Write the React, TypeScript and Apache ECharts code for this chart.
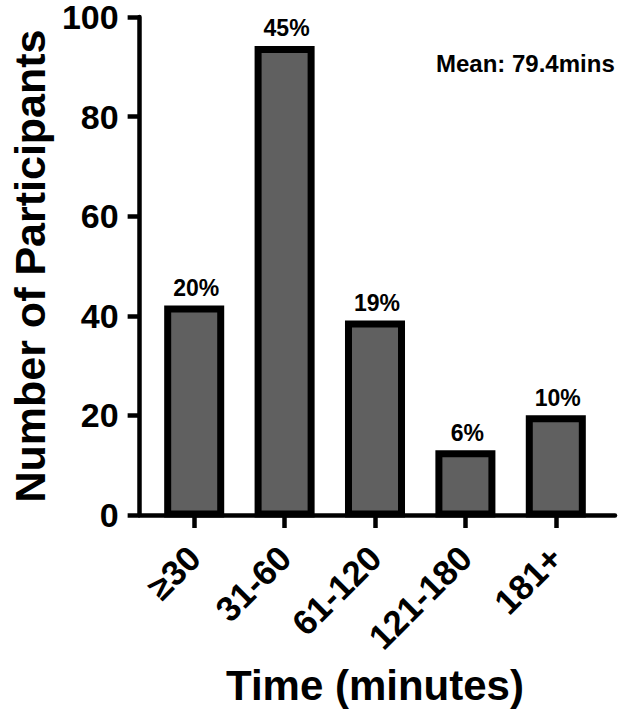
import React, { useEffect, useRef } from "react";
import * as echarts from "echarts";

const categories = ["≥30", "31-60", "61-120", "121-180", "181+"];
const participants = [42, 94, 39, 13, 20];
const percentLabels = ["20%", "45%", "19%", "6%", "10%"];
const yTicks = [0, 20, 40, 60, 80, 100];
const meanText = "Mean: 79.4mins";

const FONT = "'Liberation Sans', Arial, Helvetica, sans-serif";

export default function App() {
  const ref = useRef<HTMLDivElement>(null);

  useEffect(() => {
    document.body.style.margin = "0";
    if (!ref.current) return;
    const chart = echarts.init(ref.current, undefined, { renderer: "svg" });

    const data = participants.map((v, i) => [i, v]);
    const lw = 4.5;

    const option: any = {
      animation: false,
      backgroundColor: "#ffffff",
      grid: [
        { left: 132.5, right: 23, top: 16, bottom: 196 },
        { left: 149, width: 452, top: 16, bottom: 196 },
      ],
      xAxis: [
        {
          gridIndex: 0,
          type: "value",
          min: 0,
          max: 1,
          axisLine: { show: true, lineStyle: { color: "#000", width: lw } },
          axisTick: { show: false },
          axisLabel: { show: false },
          splitLine: { show: false },
        },
        {
          gridIndex: 1,
          type: "category",
          data: categories,
          axisLine: { show: false },
          axisTick: {
            show: true,
            alignWithLabel: true,
            length: 13,
            lineStyle: { color: "#000", width: lw },
          },
          axisLabel: {
            rotate: 45,
            margin: 37,
            interval: 0,
            color: "#000",
            fontSize: 35,
            fontWeight: "bold",
            fontFamily: FONT,
          },
          splitLine: { show: false },
          name: "Time (minutes)",
          nameLocation: "middle",
          nameGap: 170,
          nameTextStyle: {
            color: "#000",
            fontSize: 42,
            fontWeight: "bold",
            fontFamily: FONT,
            verticalAlign: "middle",
          },
        },
      ],
      yAxis: [
        {
          gridIndex: 0,
          type: "value",
          min: yTicks[0],
          max: yTicks[yTicks.length - 1],
          interval: yTicks[1] - yTicks[0],
          axisLine: { show: true, lineStyle: { color: "#000", width: lw } },
          axisTick: {
            show: true,
            length: 12,
            lineStyle: { color: "#000", width: lw },
          },
          axisLabel: {
            margin: 21,
            color: "#000",
            fontSize: 34,
            lineHeight: 30,
            fontWeight: "bold",
            fontFamily: FONT,
          },
          splitLine: { show: false },
          name: "Number of Participants",
          nameLocation: "middle",
          nameGap: 110,
          nameRotate: 90,
          nameTextStyle: {
            color: "#000",
            fontSize: 43,
            fontWeight: "bold",
            fontFamily: FONT,
            verticalAlign: "middle",
          },
        },
        {
          gridIndex: 1,
          type: "value",
          min: yTicks[0],
          max: yTicks[yTicks.length - 1],
          show: false,
        },
      ],
      series: [
        {
          type: "custom",
          xAxisIndex: 1,
          yAxisIndex: 1,
          data,
          z: 1,
          renderItem: (params: any, api: any) => {
            const idx = api.value(0);
            const v = api.value(1);
            const top = api.coord([idx, v]);
            const base = api.coord([idx, 0]);
            const band = api.size([1, 0])[0];
            const w = band * 0.664;
            const bw = 7;
            const x0 = top[0] - w / 2;
            return {
              type: "group",
              children: [
                {
                  type: "rect",
                  shape: {
                    x: x0 + bw / 2,
                    y: top[1] + bw / 2,
                    width: w - bw,
                    height: base[1] - top[1] - bw / 2 - 1,
                  },
                  style: { fill: "#606060", stroke: "#000", lineWidth: bw },
                },
                {
                  type: "text",
                  style: {
                    text: percentLabels[idx],
                    x: top[0] + 2,
                    y: top[1] - 6,
                    align: "center",
                    verticalAlign: "bottom",
                    textAlign: "center",
                    textVerticalAlign: "bottom",
                    fill: "#000",
                    fontSize: 23,
                    fontWeight: "bold",
                    fontFamily: FONT,
                  },
                },
              ],
            };
          },
        },
      ],
      graphic: [
        {
          type: "text",
          left: 436,
          top: 51,
          style: {
            text: meanText,
            fill: "#000",
            fontSize: 24,
            fontWeight: "bold",
            fontFamily: FONT,
          },
        },
      ],
    };

    chart.setOption(option);
    return () => chart.dispose();
  }, []);

  return <div ref={ref} style={{ width: 638, height: 711 }} />;
}
